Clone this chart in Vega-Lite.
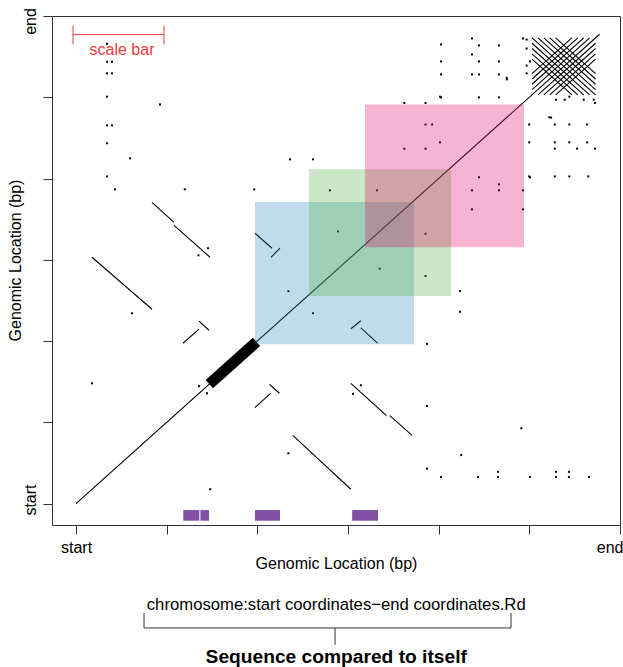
{
  "$schema": "https://vega.github.io/schema/vega-lite/v6.json",
  "width": 568,
  "height": 509,
  "autosize": "none",
  "padding": {"left": 52, "top": 16, "right": 3, "bottom": 142},
  "config": {
    "font": "Liberation Sans",
    "view": {"stroke": "#333333", "strokeWidth": 1},
    "axis": {"grid": false, "domain": false, "tickColor": "#333333", "tickSize": 9, "labelFontSize": 16, "titleFontSize": 16, "titleFontWeight": "normal", "labelColor": "black", "titleColor": "black", "labelOverlap": false}
  },
  "datasets": {
    "seg": [
      {"x": 0, "y": 0, "x2": 5.775, "y2": 5.775},
      {"x": 0.176, "y": 3.031, "x2": 0.838, "y2": 2.391},
      {"x": 3.031, "y": 0.176, "x2": 2.391, "y2": 0.838},
      {"x": 0.838, "y": 3.707, "x2": 1.081, "y2": 3.461},
      {"x": 3.707, "y": 0.838, "x2": 3.461, "y2": 1.081},
      {"x": 1.081, "y": 3.424, "x2": 1.478, "y2": 3.031},
      {"x": 3.424, "y": 1.081, "x2": 3.031, "y2": 1.478},
      {"x": 1.357, "y": 2.244, "x2": 1.467, "y2": 2.133},
      {"x": 2.244, "y": 1.357, "x2": 2.133, "y2": 1.467},
      {"x": 1.180, "y": 1.973, "x2": 1.357, "y2": 2.146},
      {"x": 1.973, "y": 1.180, "x2": 2.146, "y2": 1.357},
      {"x": 1.974, "y": 3.326, "x2": 2.162, "y2": 3.142},
      {"x": 3.326, "y": 1.974, "x2": 3.142, "y2": 2.162},
      {"x": 2.151, "y": 3.031, "x2": 2.250, "y2": 3.142},
      {"x": 3.031, "y": 2.151, "x2": 3.142, "y2": 2.250},
      {"x": 5.03, "y": 5.73, "x2": 5.73, "y2": 5.03},
      {"x": 5.095, "y": 5.73, "x2": 5.73, "y2": 5.095},
      {"x": 5.16, "y": 5.73, "x2": 5.73, "y2": 5.16},
      {"x": 5.225, "y": 5.73, "x2": 5.73, "y2": 5.225},
      {"x": 5.29, "y": 5.73, "x2": 5.73, "y2": 5.29},
      {"x": 5.03, "y": 5.665, "x2": 5.665, "y2": 5.03},
      {"x": 5.03, "y": 5.60, "x2": 5.60, "y2": 5.03},
      {"x": 5.03, "y": 5.535, "x2": 5.535, "y2": 5.03},
      {"x": 5.03, "y": 5.47, "x2": 5.47, "y2": 5.03},
      {"x": 5.03, "y": 5.095, "x2": 5.665, "y2": 5.73},
      {"x": 5.03, "y": 5.16, "x2": 5.60, "y2": 5.73},
      {"x": 5.03, "y": 5.225, "x2": 5.535, "y2": 5.73},
      {"x": 5.03, "y": 5.29, "x2": 5.47, "y2": 5.73},
      {"x": 5.095, "y": 5.03, "x2": 5.73, "y2": 5.665},
      {"x": 5.16, "y": 5.03, "x2": 5.73, "y2": 5.60},
      {"x": 5.225, "y": 5.03, "x2": 5.73, "y2": 5.535},
      {"x": 5.29, "y": 5.03, "x2": 5.73, "y2": 5.47}
    ],
    "dots": [
      {"x": 4.026, "y": 5.650}, {"x": 5.650, "y": 4.026},
      {"x": 4.367, "y": 5.724}, {"x": 5.724, "y": 4.367},
      {"x": 4.445, "y": 5.638}, {"x": 5.638, "y": 4.445},
      {"x": 4.665, "y": 5.638}, {"x": 5.638, "y": 4.665},
      {"x": 4.930, "y": 5.724}, {"x": 5.724, "y": 4.930},
      {"x": 4.026, "y": 5.441}, {"x": 5.441, "y": 4.026},
      {"x": 4.367, "y": 5.527}, {"x": 5.527, "y": 4.367},
      {"x": 4.445, "y": 5.441}, {"x": 5.441, "y": 4.445},
      {"x": 4.665, "y": 5.441}, {"x": 5.441, "y": 4.665},
      {"x": 5.007, "y": 5.441}, {"x": 5.441, "y": 5.007},
      {"x": 4.026, "y": 5.281}, {"x": 5.281, "y": 4.026},
      {"x": 4.367, "y": 5.281}, {"x": 5.281, "y": 4.367},
      {"x": 4.445, "y": 5.281}, {"x": 5.281, "y": 4.445},
      {"x": 4.665, "y": 5.281}, {"x": 5.281, "y": 4.665},
      {"x": 4.753, "y": 5.220}, {"x": 5.220, "y": 4.753},
      {"x": 4.026, "y": 4.998}, {"x": 4.998, "y": 4.026},
      {"x": 4.445, "y": 4.998}, {"x": 4.998, "y": 4.445},
      {"x": 4.665, "y": 4.998}, {"x": 4.998, "y": 4.665},
      {"x": 4.970, "y": 5.294}, {"x": 5.294, "y": 4.970},
      {"x": 4.970, "y": 5.390}, {"x": 5.390, "y": 4.970},
      {"x": 4.970, "y": 5.600}, {"x": 5.600, "y": 4.970},
      {"x": 4.970, "y": 5.710}, {"x": 5.710, "y": 4.970},
      {"x": 4.026, "y": 0.326}, {"x": 0.342, "y": 4.026},
      {"x": 4.434, "y": 0.326}, {"x": 0.342, "y": 4.434},
      {"x": 4.654, "y": 0.326}, {"x": 0.342, "y": 4.654},
      {"x": 5.007, "y": 0.326}, {"x": 0.342, "y": 5.007},
      {"x": 5.294, "y": 0.326}, {"x": 0.342, "y": 5.294},
      {"x": 5.437, "y": 0.326}, {"x": 0.342, "y": 5.437},
      {"x": 5.658, "y": 0.326}, {"x": 0.342, "y": 5.658},
      {"x": 4.654, "y": 0.390}, {"x": 0.397, "y": 4.654},
      {"x": 5.294, "y": 0.390}, {"x": 0.397, "y": 5.294},
      {"x": 5.437, "y": 0.390}, {"x": 0.397, "y": 5.437},
      {"x": 3.871, "y": 0.430}, {"x": 0.430, "y": 3.867},
      {"x": 3.871, "y": 1.200}, {"x": 1.200, "y": 3.867},
      {"x": 3.871, "y": 1.965}, {"x": 1.965, "y": 3.867},
      {"x": 4.248, "y": 0.596}, {"x": 0.596, "y": 4.248},
      {"x": 4.912, "y": 0.926}, {"x": 0.926, "y": 4.912},
      {"x": 2.342, "y": 0.618}, {"x": 0.618, "y": 2.342},
      {"x": 3.142, "y": 1.456}, {"x": 1.456, "y": 3.142},
      {"x": 3.055, "y": 1.350}, {"x": 1.350, "y": 3.055},
      {"x": 1.445, "y": 1.357}, {"x": 1.357, "y": 1.445},
      {"x": 4.236, "y": 2.360}, {"x": 2.360, "y": 4.236},
      {"x": 4.236, "y": 2.614}, {"x": 2.614, "y": 4.236},
      {"x": 3.855, "y": 2.800}, {"x": 2.800, "y": 3.855},
      {"x": 3.855, "y": 3.320}, {"x": 3.320, "y": 3.855},
      {"x": 2.614, "y": 2.342}, {"x": 2.342, "y": 2.614},
      {"x": 3.350, "y": 2.890}, {"x": 2.890, "y": 3.350},
      {"x": 1.480, "y": 0.176}, {"x": 0.176, "y": 1.480},
      {"x": 4.367, "y": 3.855}, {"x": 3.855, "y": 4.367},
      {"x": 4.665, "y": 3.855}, {"x": 3.855, "y": 4.665},
      {"x": 4.930, "y": 3.855}, {"x": 3.855, "y": 4.930},
      {"x": 4.445, "y": 4.015}, {"x": 4.015, "y": 4.445},
      {"x": 4.665, "y": 3.928}, {"x": 3.928, "y": 4.665},
      {"x": 5.007, "y": 4.015}, {"x": 4.015, "y": 5.007},
      {"x": 4.367, "y": 3.621}, {"x": 3.621, "y": 4.367},
      {"x": 4.930, "y": 3.621}, {"x": 3.621, "y": 4.930},
      {"x": 5.240, "y": 4.750}, {"x": 4.750, "y": 5.240}
    ],
    "regions": [
      {"region": "a", "x": 1.974, "x2": 3.728, "y": 1.961, "y2": 3.711},
      {"region": "b", "x": 2.570, "x2": 4.136, "y": 2.555, "y2": 4.113},
      {"region": "c", "x": 3.187, "x2": 4.941, "y": 3.154, "y2": 4.912}
    ],
    "tracks": [
      {"x": 1.183, "x2": 1.360, "y": -0.080, "y2": -0.211},
      {"x": 1.372, "x2": 1.467, "y": -0.080, "y2": -0.211},
      {"x": 1.974, "x2": 2.250, "y": -0.080, "y2": -0.211},
      {"x": 3.046, "x2": 3.331, "y": -0.080, "y2": -0.211}
    ],
    "scalebar": [
      {"x": -0.033, "y": 5.773, "x2": 0.970, "y2": 5.773},
      {"x": -0.033, "y": 5.650, "x2": -0.033, "y2": 5.883},
      {"x": 0.970, "y": 5.650, "x2": 0.970, "y2": 5.883}
    ],
    "bracket": [
      {"x": 0.750, "y": -1.531, "x2": 4.798, "y2": -1.531},
      {"x": 0.750, "y": -1.346, "x2": 0.750, "y2": -1.531},
      {"x": 4.798, "y": -1.346, "x2": 4.798, "y2": -1.531},
      {"x": 2.857, "y": -1.531, "x2": 2.857, "y2": -1.740}
    ]
  },
  "layer": [
    {
      "data": {"name": "dots"},
      "mark": {"type": "square", "size": 4, "color": "black", "opacity": 1},
      "encoding": {
        "x": {"field": "x", "type": "quantitative", "scale": {"domain": [-0.265, 6], "nice": false, "zero": false},
          "axis": {"values": [0, 1, 2, 3, 4, 5, 6], "labelExpr": "datum.value == 0 ? 'start' : (datum.value == 6 ? 'end' : '')", "title": "Genomic Location (bp)", "labelFlush": true, "labelFlushOffset": 3, "labelPadding": 5, "titlePadding": 0}},
        "y": {"field": "y", "type": "quantitative", "scale": {"domain": [-0.264, 6], "nice": false, "zero": false},
          "axis": {"values": [0, 1, 2, 3, 4, 5, 6], "labelExpr": "datum.value == 0 ? 'start' : (datum.value == 6 ? 'end' : '')", "title": "Genomic Location (bp)", "labelAngle": -90, "labelPadding": 5, "labelOffset": {"condition": {"test": "datum.value == 6", "value": 5}, "value": -4}, "titlePadding": -1, "titleY": 244}}
      }
    },
    {
      "data": {"name": "seg"},
      "mark": {"type": "rule", "color": "black", "strokeWidth": 1.1},
      "encoding": {
        "x": {"field": "x", "type": "quantitative"},
        "y": {"field": "y", "type": "quantitative"},
        "x2": {"field": "x2"},
        "y2": {"field": "y2"}
      }
    },
    {
      "data": {"values": [{"x": 1.47, "y": 1.47, "x2": 1.99, "y2": 1.99}]},
      "mark": {"type": "rule", "color": "black", "strokeWidth": 11, "strokeCap": "butt"},
      "encoding": {
        "x": {"field": "x", "type": "quantitative"},
        "y": {"field": "y", "type": "quantitative"},
        "x2": {"field": "x2"},
        "y2": {"field": "y2"}
      }
    },
    {
      "data": {"name": "regions"},
      "mark": {"type": "rect", "opacity": 0.3},
      "encoding": {
        "x": {"field": "x", "type": "quantitative"},
        "x2": {"field": "x2"},
        "y": {"field": "y", "type": "quantitative"},
        "y2": {"field": "y2"},
        "color": {"field": "region", "type": "nominal", "scale": {"domain": ["a", "b", "c"], "range": ["#2a87c0", "#4eb23e", "#de085f"]}, "legend": null}
      }
    },
    {
      "data": {"name": "tracks"},
      "mark": {"type": "rect", "color": "#8150a3", "opacity": 1},
      "encoding": {
        "x": {"field": "x", "type": "quantitative"},
        "x2": {"field": "x2"},
        "y": {"field": "y", "type": "quantitative"},
        "y2": {"field": "y2"}
      }
    },
    {
      "data": {"name": "scalebar"},
      "mark": {"type": "rule", "color": "#f23a3a", "strokeWidth": 1},
      "encoding": {
        "x": {"field": "x", "type": "quantitative"},
        "y": {"field": "y", "type": "quantitative"},
        "x2": {"field": "x2"},
        "y2": {"field": "y2"}
      }
    },
    {
      "data": {"values": [{"x": 0.507, "y": 5.576, "label": "scale bar"}]},
      "mark": {"type": "text", "color": "#f23a3a", "fontSize": 16, "baseline": "middle", "align": "center"},
      "encoding": {
        "x": {"field": "x", "type": "quantitative"},
        "y": {"field": "y", "type": "quantitative"},
        "text": {"field": "label"}
      }
    },
    {
      "data": {"name": "bracket"},
      "mark": {"type": "rule", "color": "#333333", "strokeWidth": 1},
      "encoding": {
        "x": {"field": "x", "type": "quantitative"},
        "y": {"field": "y", "type": "quantitative"},
        "x2": {"field": "x2"},
        "y2": {"field": "y2"}
      }
    },
    {
      "data": {"values": [
        {"x": 2.87, "y": -1.248, "label": "chromosome:start coordinates−end coordinates.Rd"}
      ]},
      "mark": {"type": "text", "color": "black", "fontSize": 16.7, "baseline": "middle", "align": "center"},
      "encoding": {
        "x": {"field": "x", "type": "quantitative"},
        "y": {"field": "y", "type": "quantitative"},
        "text": {"field": "label"}
      }
    },
    {
      "data": {"values": [
        {"x": 2.87, "y": -1.887, "label": "Sequence compared to itself"}
      ]},
      "mark": {"type": "text", "color": "black", "fontSize": 19.2, "fontWeight": "bold", "baseline": "middle", "align": "center"},
      "encoding": {
        "x": {"field": "x", "type": "quantitative"},
        "y": {"field": "y", "type": "quantitative"},
        "text": {"field": "label"}
      }
    }
  ]
}
